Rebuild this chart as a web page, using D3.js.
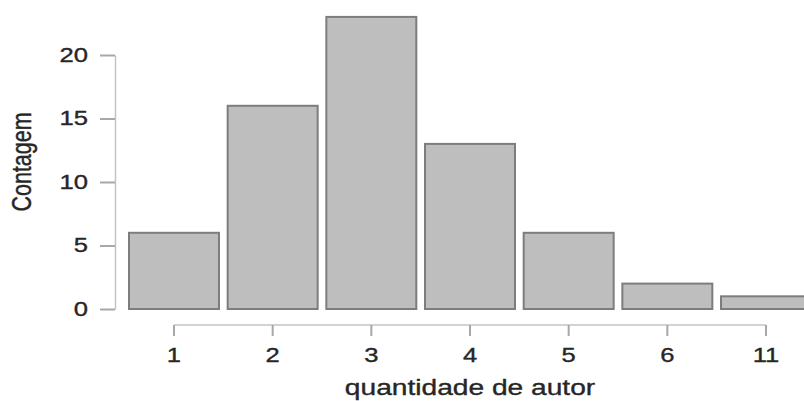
<!DOCTYPE html>
<html>
<head>
<meta charset="utf-8">
<script src="https://cdn.jsdelivr.net/npm/d3@7"></script>
<style>
  html, body { margin: 0; padding: 0; background: #fff; }
  svg { display: block; }
  text { font-family: "Liberation Sans", Arial, Helvetica, sans-serif; fill: #262626; stroke: #262626; stroke-width: 0.35px; }
</style>
</head>
<body>
<svg id="chart" width="804" height="401"></svg>
<script>
const categories = ["1", "2", "3", "4", "5", "6", "11"];
const counts = [6, 16, 23, 13, 6, 2, 1];
const yTicks = [0, 5, 10, 15, 20];
const xTitle = "quantidade de autor";
const yTitle = "Contagem";

const stretch = 1.28;
const svg = d3.select("#chart");

const x = d3.scaleBand().domain(categories).range([129, 811]).paddingInner(0.088).paddingOuter(0);
const y = d3.scaleLinear().domain([0, 20]).range([309, 55]);

// bars
svg.append("g").selectAll("rect")
  .data(categories.map((c, i) => ({c, v: counts[i]})))
  .join("rect")
  .attr("x", d => x(d.c))
  .attr("y", d => y(d.v))
  .attr("width", x.bandwidth())
  .attr("height", d => y(0) - y(d.v))
  .attr("fill", "#bebebe")
  .attr("stroke", "#7d7d7d")
  .attr("stroke-width", 2);

// y axis
const yAxis = svg.append("g")
  .attr("transform", "translate(115,0)")
  .call(d3.axisLeft(y).tickValues(yTicks).tickSize(15).tickSizeOuter(0).tickPadding(12));
yAxis.select(".domain").attr("stroke", "#c4c4c4").attr("stroke-width", 1.5);
yAxis.selectAll(".tick line").attr("stroke", "#a8a8a8").attr("stroke-width", 2);
yAxis.selectAll(".tick text")
  .style("font-size", "20px")
  .attr("fill", "#262626")
  .each(function() {
    const t = d3.select(this);
    const tx = +t.attr("x");
    t.attr("x", 0).attr("transform", `translate(${tx},0) scale(${stretch},1)`);
  });

// x axis
const cx = c => x(c) + x.bandwidth() / 2;
const xAxis = svg.append("g")
  .attr("transform", "translate(0,325)")
  .call(d3.axisBottom(x).tickSize(11).tickSizeOuter(0).tickPadding(12));
xAxis.select(".domain")
  .attr("d", `M${cx(categories[0])},0H${cx(categories[categories.length - 1])}`)
  .attr("stroke", "#c4c4c4").attr("stroke-width", 1.5);
xAxis.selectAll(".tick line").attr("stroke", "#a8a8a8").attr("stroke-width", 2);
xAxis.selectAll(".tick text")
  .style("font-size", "20px")
  .attr("fill", "#262626")
  .attr("transform", `scale(${stretch},1)`);

// titles
svg.append("text")
  .attr("transform", `translate(${cx("4")},395) scale(${stretch},1)`)
  .attr("text-anchor", "middle")
  .style("font-size", "22px")
  .text(xTitle);

svg.append("text")
  .attr("transform", `translate(31,162) scale(${stretch},1) rotate(-90)`)
  .attr("text-anchor", "middle")
  .style("font-size", "21.5px")
  .text(yTitle);
</script>
</body>
</html>
